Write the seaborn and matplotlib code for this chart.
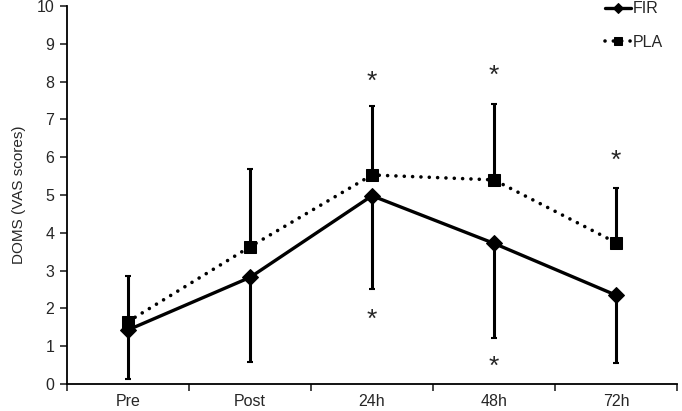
import numpy as np
import pandas as pd
import matplotlib
matplotlib.use("Agg")
import matplotlib.pyplot as plt
import seaborn as sns

categories = ["Pre", "Post", "24h", "48h", "72h"]
fir_mean = [1.43, 2.82, 4.98, 3.72, 2.35]
fir_sd = [1.29, 2.24, 2.47, 2.51, 1.80]
pla_mean = [1.65, 3.63, 5.53, 5.40, 3.74]
pla_sd = [1.21, 2.07, 1.83, 2.01, 1.44]
star_cats = ["24h", "24h", "48h", "48h", "72h"]
star_vals = [8.0, 1.7, 8.15, 0.45, 5.9]

sns.set_style("white")
plt.rcParams['font.family'] = ['Liberation Sans', 'DejaVu Sans']

fig = plt.figure(figsize=(6.82, 4.11), dpi=100)
ax = fig.add_axes([67/682, 27/411, 610/682, 378/411])

xpos = np.arange(len(categories)) + 0.5
df = pd.DataFrame({
    "x": np.concatenate([xpos, xpos]),
    "y": fir_mean + pla_mean,
    "group": ["FIR"] * 5 + ["PLA"] * 5,
})

# error bars (FIR downward, PLA upward)
ax.errorbar(xpos, fir_mean, yerr=[fir_sd, [0]*5], fmt="none", ecolor="black",
            elinewidth=2.2, capsize=2, capthick=1.5, zorder=2)
ax.errorbar(xpos, pla_mean, yerr=[[0]*5, pla_sd], fmt="none", ecolor="black",
            elinewidth=2.2, capsize=2, capthick=1.5, zorder=2)

sns.lineplot(data=df[df.group == "FIR"], x="x", y="y", ax=ax, color="black",
             linewidth=2.4, marker="D", markersize=8, markeredgecolor="black",
             label="FIR", zorder=3)
sns.lineplot(data=df[df.group == "PLA"], x="x", y="y", ax=ax, color="black",
             linewidth=2.6, linestyle=(0, (0.01, 2.3)),
             marker="s", markersize=8, markeredgecolor="black",
             label="PLA", zorder=3)
for line in ax.get_lines():
    line.set_dash_capstyle("round")

for c, v in zip(star_cats, star_vals):
    ax.text(categories.index(c) + 0.5, v, "*", ha="center", va="center", fontsize=19)

ax.set_xlim(0, 5)
ax.set_ylim(0, 10)
ax.set_xticks(np.arange(0, 6))
ax.set_xticklabels([])
ax.set_xticks(xpos, minor=True)
ax.set_xticklabels(categories, minor=True, fontsize=11.5)
ax.tick_params(axis="x", which="minor", length=0, pad=7)
ax.tick_params(axis="x", which="major", length=5, width=1.2, direction="out", bottom=True)
ax.set_yticks(np.arange(0, 11, 1))
ax.tick_params(axis="y", length=5, width=1.2, direction="out", left=True, labelsize=11.5, pad=4)
ax.set_xlabel("")
ax.set_ylabel("DOMS (VAS scores)", fontsize=11, labelpad=8)
for s in ["top", "right"]:
    ax.spines[s].set_visible(False)
for s in ["left", "bottom"]:
    ax.spines[s].set_linewidth(1.3)
    ax.spines[s].set_color("black")

leg = ax.legend(loc="upper right", bbox_to_anchor=(1.0, 1.05), frameon=False,
                fontsize=11.5, handlelength=1.6, handletextpad=0.1, labelspacing=1.15,
                markerscale=0.7)
for h in leg.legend_handles:
    h.set_dash_capstyle("round")

fig.savefig("out.png", dpi=100)
